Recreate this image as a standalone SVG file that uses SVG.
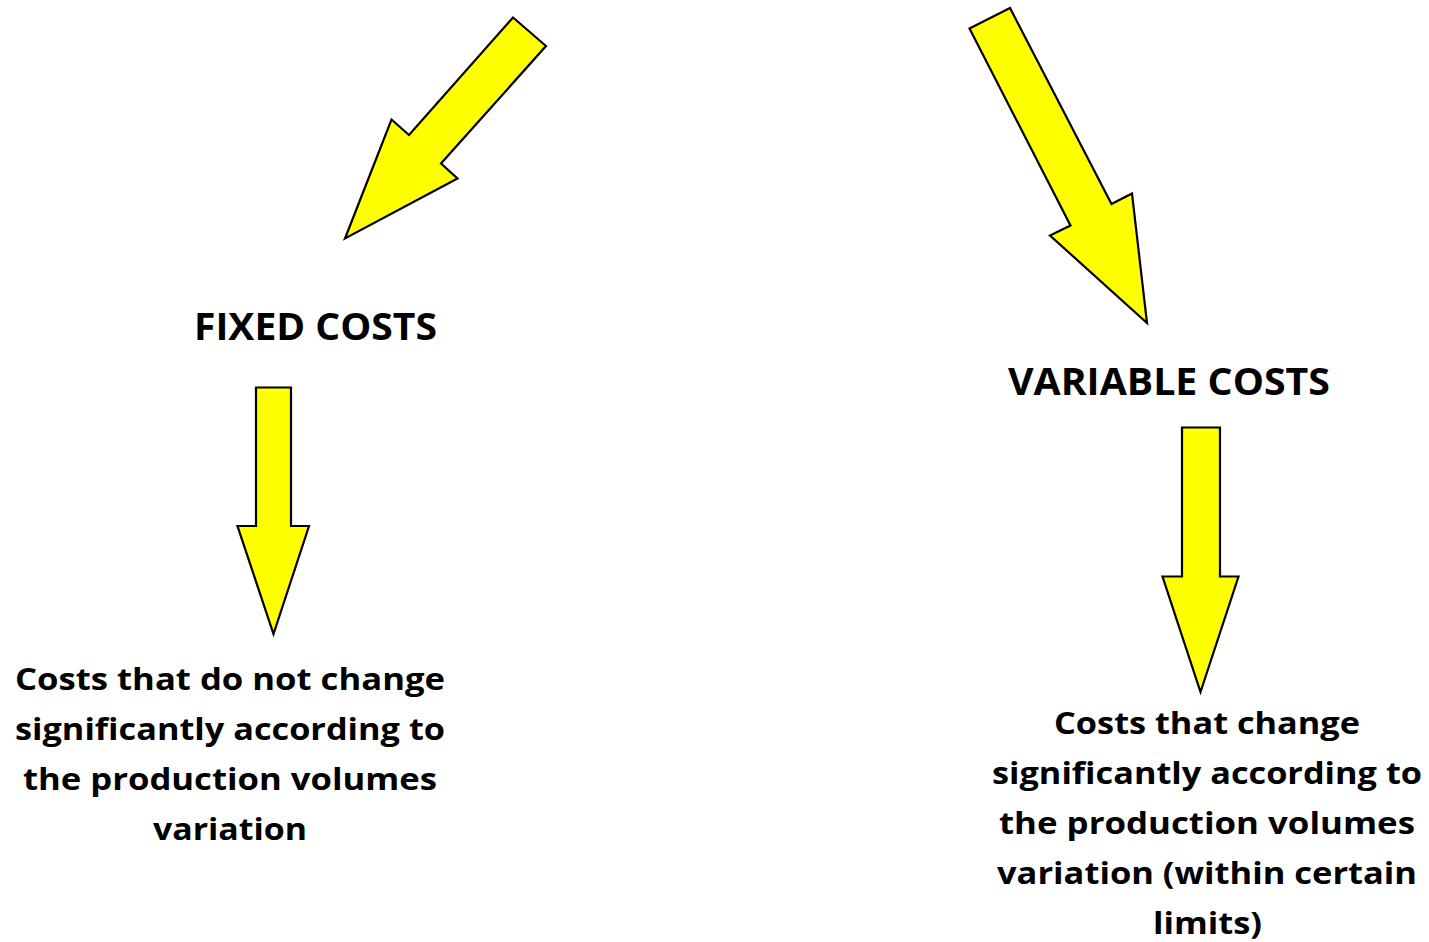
<svg xmlns="http://www.w3.org/2000/svg" width="1429" height="942" viewBox="0 0 1429 942">
  <style>
    .arrow { fill: #FFFF00; stroke: #000000; stroke-width: 2.2; stroke-linejoin: miter; }
    .head { font-family: "Open Sans", Lato, "Liberation Sans", sans-serif; font-weight: bold; font-size: 37px; fill: #000000; }
    .body { font-family: "Open Sans", Lato, "Liberation Sans", sans-serif; font-weight: bold; font-size: 31px; fill: #000000; }
  </style>
  <rect width="1429" height="942" fill="#FFFFFF"/>

  <g id="connectors">
    <!-- top-left diagonal arrow towards fixed costs -->
    <polygon class="arrow" points="513,17.5 546,46 441,163.5 457.5,178.5 345,238.5 391.5,119.5 409,135"/>
    <!-- top-right diagonal arrow towards variable costs -->
    <polygon class="arrow" points="969.5,28.5 1010,8 1111.5,204 1132,193.5 1147,323 1050,235.5 1070.5,225.5"/>
    <!-- fixed costs down arrow -->
    <polygon class="arrow" points="256,387.5 291,387.5 291,526 309,526 273.5,634 237.5,526 256,526"/>
    <!-- variable costs down arrow -->
    <polygon class="arrow" points="1182,427.5 1220,427.5 1220,576.5 1238.5,576.5 1200.5,692 1162.5,576.5 1182,576.5"/>
  </g>

  <g id="fixed-costs">
    <text class="head" x="194" y="339.5" textLength="243" lengthAdjust="spacingAndGlyphs">FIXED COSTS</text>
  </g>

  <g id="variable-costs">
    <text class="head" x="1008" y="395" textLength="322" lengthAdjust="spacingAndGlyphs">VARIABLE COSTS</text>
  </g>

  <g id="fixed-costs-definition">
    <text class="body" x="15" y="690" textLength="430" lengthAdjust="spacingAndGlyphs">Costs that do not change</text>
    <text class="body" x="15" y="740" textLength="430" lengthAdjust="spacingAndGlyphs">significantly according to</text>
    <text class="body" x="23" y="790" textLength="414" lengthAdjust="spacingAndGlyphs">the production volumes</text>
    <text class="body" x="153" y="840" textLength="154" lengthAdjust="spacingAndGlyphs">variation</text>
  </g>

  <g id="variable-costs-definition">
    <text class="body" x="1054" y="733.5" textLength="306" lengthAdjust="spacingAndGlyphs">Costs that change</text>
    <text class="body" x="992" y="783.5" textLength="430" lengthAdjust="spacingAndGlyphs">significantly according to</text>
    <text class="body" x="999" y="833.5" textLength="416" lengthAdjust="spacingAndGlyphs">the production volumes</text>
    <text class="body" x="997" y="883.5" textLength="420" lengthAdjust="spacingAndGlyphs">variation (within certain</text>
    <text class="body" x="1153" y="933.5" textLength="109" lengthAdjust="spacingAndGlyphs">limits)</text>
  </g>
</svg>
